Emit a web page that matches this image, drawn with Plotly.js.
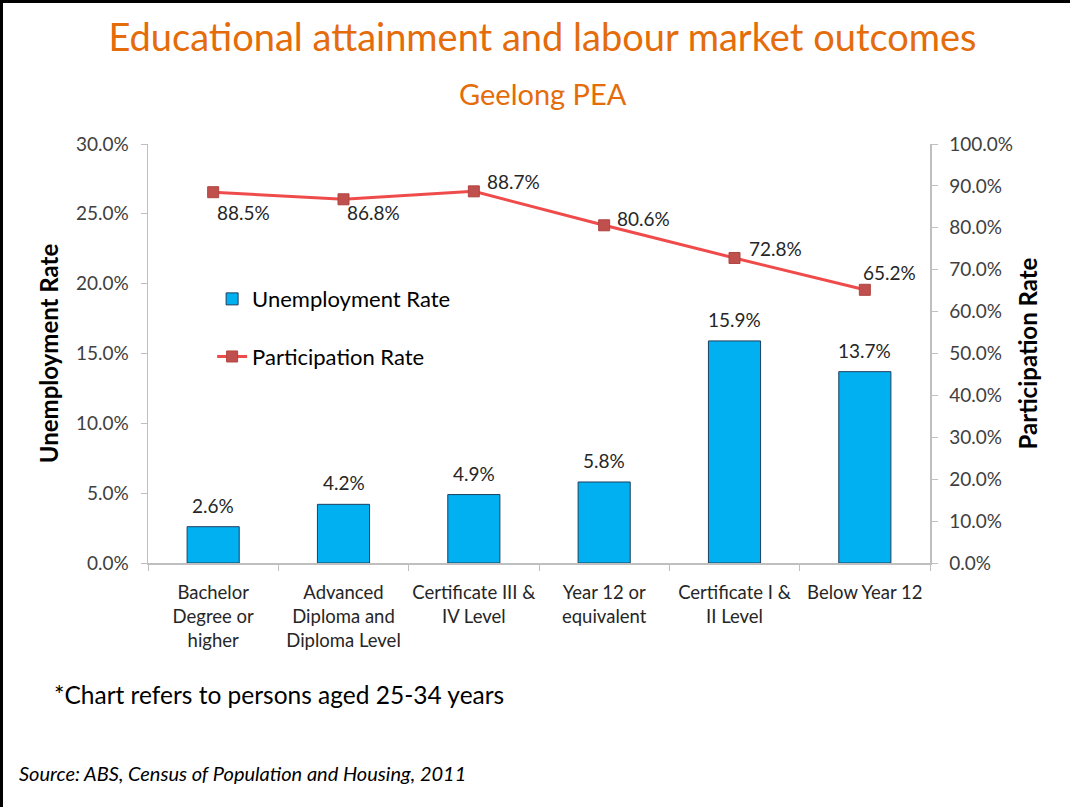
<!DOCTYPE html>
<html>
<head>
<meta charset="utf-8">
<script src="https://cdn.plot.ly/plotly-3.0.1.min.js"></script>
<style>
  html, body { margin: 0; padding: 0; background: #fff; }
  #wrap { position: relative; width: 1070px; height: 807px; }
  #chart { position: absolute; left: 0; top: 0; width: 1070px; height: 807px; }
  #frame { position: absolute; left: 0; top: 0; width: 1070px; height: 807px; box-sizing: border-box;
           border-top: 3px solid #000; border-left: 3px solid #000; pointer-events: none; }
</style>
</head>
<body>
<div id="wrap"><div id="chart"></div><div id="frame"></div></div>
<script>
// ---- data ----
const categories = [
  "Bachelor<br>Degree or<br>higher",
  "Advanced<br>Diploma and<br>Diploma Level",
  "Certificate III &<br>IV Level",
  "Year 12 or<br>equivalent",
  "Certificate I &<br>II Level",
  "Below Year 12"
];
const unemploymentRate = [0.026, 0.042, 0.049, 0.058, 0.159, 0.137];
const participationRate = [0.885, 0.868, 0.887, 0.806, 0.728, 0.652];

// ---- label offsets (style only) ----
const lineLabelShiftX = [30, 30, 40, 39, 41, 25];
const lineLabelShiftY = [-20, -13, 10, 7, 9, 17];

const font = "Lato, 'Open Sans', sans-serif";
const tickColor = "#404040";
const axisColor = "#BFBFBF";

const bars = {
  type: "bar", name: "Unemployment Rate",
  x: categories, y: unemploymentRate, yaxis: "y",
  marker: { color: "#00B0F0", line: { color: "#1F3F5F", width: 1 } },
  legendgroup: "a",
  hoverinfo: "skip"
};
const line = {
  type: "scatter", mode: "lines+markers", name: "Participation Rate",
  x: categories, y: participationRate, yaxis: "y2",
  line: { color: "#F04B4B", width: 3 },
  marker: { symbol: "square", size: 11, color: "#C0504D", line: { color: "#B04440", width: 1 } },
  legendgroup: "b",
  hoverinfo: "skip"
};

const fmt = v => (v * 100).toFixed(1) + "%";
const annotations = [];
categories.forEach((c, i) => {
  annotations.push({
    x: c, y: unemploymentRate[i], xref: "x", yref: "y",
    text: fmt(unemploymentRate[i]), showarrow: false,
    xanchor: "center", yanchor: "bottom", yshift: 8,
    font: { family: font, size: 19, color: "#262626" }
  });
  annotations.push({
    x: c, y: participationRate[i], xref: "x", yref: "y2",
    text: fmt(participationRate[i]), showarrow: false,
    xanchor: "center", yanchor: "middle",
    xshift: lineLabelShiftX[i], yshift: lineLabelShiftY[i],
    font: { family: font, size: 19, color: "#262626" }
  });
});
annotations.push({
  text: "Geelong PEA", xref: "paper", yref: "paper", x: 0.505, y: 1.1217,
  xanchor: "center", yanchor: "middle", showarrow: false,
  font: { family: font, size: 29, color: "#E46C0A" }
});
annotations.push({
  text: "*Chart refers to persons aged 25-34 years", xref: "paper", yref: "paper",
  x: -0.1228, y: -0.315, xanchor: "left", yanchor: "middle", showarrow: false,
  font: { family: font, size: 24.5, color: "#000" }
});
annotations.push({
  text: "<i>Source: ABS, Census of Population and Housing, 2011</i>", xref: "paper", yref: "paper",
  x: -0.1675, y: -0.501, xanchor: "left", yanchor: "middle", showarrow: false,
  font: { family: font, size: 20, color: "#000" }
});

const layout = {
  width: 1070, height: 807,
  margin: { l: 148, r: 140, t: 144, b: 244 },
  paper_bgcolor: "#fff", plot_bgcolor: "#fff",
  font: { family: font, color: tickColor },
  title: {
    text: "Educational attainment and labour market outcomes",
    x: 0.507, xanchor: "center", y: 0.953, yanchor: "middle", yref: "container",
    font: { family: font, size: 38, color: "#E46C0A" }
  },
  bargap: 0.6,
  showlegend: true,
  legend: {
    x: 0.082, y: 0.68, xanchor: "left", yanchor: "top",
    bgcolor: "rgba(0,0,0,0)", traceorder: "grouped", tracegroupgap: 26,
    font: { family: font, size: 22, color: "#000" }
  },
  xaxis: {
    type: "category",
    showline: true, linecolor: axisColor, linewidth: 1.5,
    ticks: "outside", tickson: "boundaries", ticklen: 6, tickcolor: axisColor,
    ticklabelstandoff: 12, tickangle: 0,
    tickfont: { family: font, size: 18.5, color: "#262626" },
    showgrid: false, zeroline: false
  },
  yaxis: {
    range: [0, 0.3], dtick: 0.05, tickformat: ".1%",
    showline: true, linecolor: axisColor, linewidth: 1.5,
    ticks: "outside", ticklen: 6, tickcolor: axisColor,
    ticklabelstandoff: 8,
    tickfont: { family: font, size: 19, color: tickColor },
    showgrid: false, zeroline: false,
    title: { text: "<b>Unemployment Rate</b>", standoff: 10, font: { family: font, size: 24, color: "#000" } }
  },
  yaxis2: {
    range: [0, 1], dtick: 0.1, tickformat: ".1%",
    overlaying: "y", side: "right",
    showline: true, linecolor: axisColor, linewidth: 1.5,
    ticks: "outside", ticklen: 6, tickcolor: axisColor,
    ticklabelstandoff: 8,
    tickfont: { family: font, size: 19, color: tickColor },
    showgrid: false, zeroline: false,
    title: { text: "<b>Participation Rate</b>", standoff: 8, font: { family: font, size: 24, color: "#000" } }
  },
  annotations: annotations
};

Plotly.newPlot("chart", [bars, line], layout, { displayModeBar: false, staticPlot: true });
</script>
</body>
</html>
